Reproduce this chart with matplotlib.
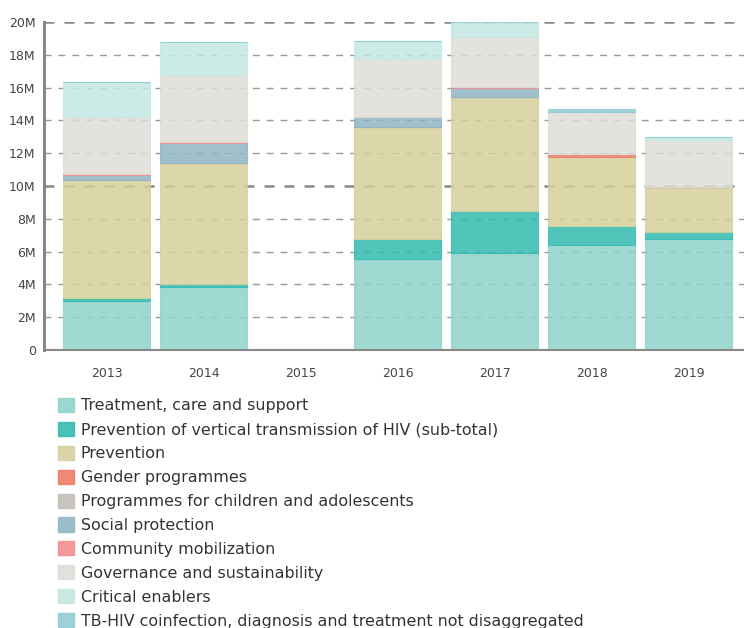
import numpy as np
import matplotlib
matplotlib.use("Agg")
import matplotlib.pyplot as plt
from matplotlib.patches import Patch
from matplotlib.ticker import FuncFormatter

years = ["2013", "2014", "2015", "2016", "2017", "2018", "2019"]

# values in millions
treatment = [3.00, 3.82, 0, 5.53, 5.93, 6.40, 6.75]
pmtct = [0.19, 0.22, 0, 1.22, 2.56, 1.16, 0.43]
prevention = [7.17, 7.34, 0, 6.87, 6.91, 4.23, 2.74]
gender = [0, 0, 0, 0, 0, 0.15, 0]
children = [0, 0, 0, 0, 0, 0, 0]
social = [0.30, 1.22, 0, 0.57, 0.55, 0, 0]
community = [0.05, 0.06, 0, 0.04, 0.06, 0, 0]
governance = [3.47, 4.11, 0, 3.49, 3.09, 2.59, 2.88]
critical = [2.17, 2.01, 0, 1.14, 0.88, 0, 0.20]
tbhiv = [0, 0, 0, 0, 0, 0.15, 0]

series = [
    ("Treatment, care and support", treatment, "#8fd3ca"),
    ("Prevention of vertical transmission of HIV (sub-total)", pmtct, "#34bbb0"),
    ("Prevention", prevention, "#d6d19c"),
    ("Gender programmes", gender, "#f07c66"),
    ("Programmes for children and adolescents", children, "#c4beb8"),
    ("Social protection", social, "#90b6c4"),
    ("Community mobilization", community, "#f38d90"),
    ("Governance and sustainability", governance, "#deddd8"),
    ("Critical enablers", critical, "#c4e8e2"),
    ("TB-HIV coinfection, diagnosis and treatment not disaggregated", tbhiv, "#92cbd3"),
]

fig = plt.figure(figsize=(7.44, 6.28), dpi=100)
ax = fig.add_axes([44 / 744, 278 / 628, 700 / 744, 328 / 628])

x = np.arange(len(years))
bottom = np.zeros(len(years))
for name, vals, col in series:
    v = np.array(vals, dtype=float)
    ax.bar(x, v, width=0.9, bottom=bottom, color=col, alpha=0.85,
           edgecolor=col, linewidth=0.8, zorder=2)
    bottom += v

# grid
for yv in range(2, 21, 2):
    if yv % 10 == 0:
        ax.axhline(yv, color="#888888", lw=1.8, ls=(0, (4, 4)), zorder=1)
    else:
        ax.axhline(yv, color="#999999", lw=1.0, ls=(0, (5, 5)), zorder=1)

ax.set_xlim(-0.644, 6.57)
ax.set_ylim(0, 20)
ax.set_xticks(x)
ax.set_xticklabels(years)
ax.set_yticks(range(0, 21, 2))
ax.yaxis.set_major_formatter(FuncFormatter(lambda v, p: "0" if v == 0 else f"{int(v)}M"))
ax.tick_params(axis="both", length=0, labelsize=9, colors="#444444")
ax.tick_params(axis="x", pad=12)
ax.tick_params(axis="y", pad=6)

for s in ["top", "right"]:
    ax.spines[s].set_visible(False)
ax.spines["left"].set_color("#888888")
ax.spines["left"].set_linewidth(2.2)
ax.spines["bottom"].set_color("#888888")
ax.spines["bottom"].set_linewidth(1.5)
ax.spines["left"].set_zorder(3)
ax.spines["bottom"].set_zorder(3)

handles = [Patch(facecolor=col, edgecolor=col, alpha=0.9) for _, _, col in series]
labels = [name for name, _, _ in series]
fig.legend(handles, labels, loc="upper left", bbox_to_anchor=(50 / 744, 1 - 390 / 628),
           frameon=False, fontsize=11.4, handlelength=1.0, handleheight=1.0,
           handletextpad=0.45, labelspacing=0.53, borderpad=0, labelcolor="#333333")

fig.savefig("out.png", dpi=100)
